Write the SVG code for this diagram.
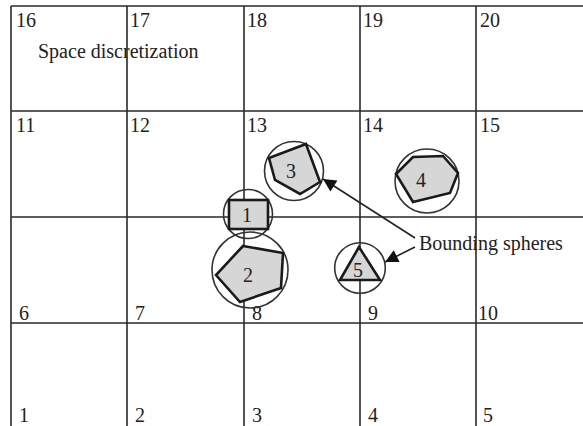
<svg xmlns="http://www.w3.org/2000/svg" width="583" height="426" viewBox="0 0 583 426">
<style>
.grid{stroke:#2a2a2a;stroke-width:1.6;fill:none}
.t{font-family:"Liberation Serif","Times New Roman",serif;font-size:20px;fill:#222}
.c{fill:none;stroke:#333;stroke-width:1.6}
.s{fill:#d6d6d6;stroke:#1a1a1a;stroke-width:2.6;stroke-linejoin:miter}
.m{text-anchor:middle}
.a{stroke:#222;stroke-width:1.6;fill:none}
</style>
<defs>
<marker id="ah2" viewBox="0 0 10 10" refX="10" refY="5" markerWidth="15" markerHeight="13" markerUnits="userSpaceOnUse" orient="auto"><path d="M0,0 L10,5 L0,10 z" fill="#111"/></marker>
</defs>
<rect width="583" height="426" fill="#fff"/>
<g id="grid">
<path class="grid" d="M11,6 H583 M11,111 H583 M11,217 H583 M11,323 H583 M11,6 V426 M127,6 V426 M244,6 V426 M360,6 V426 M476,6 V426"/>
<text class="t" x="16" y="27">16</text>
<text class="t" x="130" y="27">17</text>
<text class="t" x="247" y="27">18</text>
<text class="t" x="363" y="27">19</text>
<text class="t" x="480" y="27">20</text>
<text class="t" x="16" y="132">11</text>
<text class="t" x="130" y="132">12</text>
<text class="t" x="247" y="132">13</text>
<text class="t" x="363" y="132">14</text>
<text class="t" x="480" y="132">15</text>
<text class="t" x="19" y="320">6</text>
<text class="t" x="135" y="320">7</text>
<text class="t" x="252" y="320">8</text>
<text class="t" x="368" y="320">9</text>
<text class="t" x="478" y="320">10</text>
<text class="t" x="19" y="422">1</text>
<text class="t" x="135" y="422">2</text>
<text class="t" x="252" y="422">3</text>
<text class="t" x="368" y="422">4</text>
<text class="t" x="483" y="422">5</text>
<text class="t" x="38" y="58">Space discretization</text>
</g>
<g id="obj1">
<circle class="c" cx="248" cy="214" r="24.5"/>
<rect class="s" x="229" y="200" width="39" height="29"/>
<text class="t m" x="247" y="222">1</text>
</g>
<g id="obj2">
<circle class="c" cx="250" cy="270" r="38"/>
<polygon class="s" points="243,246 283,253 281,288 240,302 216,275"/>
<text class="t m" x="248" y="282">2</text>
</g>
<g id="obj3">
<circle class="c" cx="294" cy="171" r="29.5"/>
<polygon class="s" points="269,158 306,144 320,182 300,194 275,180"/>
<text class="t m" x="291" y="178">3</text>
</g>
<g id="obj4">
<circle class="c" cx="427" cy="181" r="32"/>
<polygon class="s" points="396,174 413,157 443,156 458,173 450,193 413,202"/>
<text class="t m" x="421" y="187">4</text>
</g>
<g id="obj5">
<circle class="c" cx="360" cy="268" r="25.3"/>
<polygon class="s" points="359,247 340,280 380,280"/>
<text class="t m" x="358" y="277">5</text>
</g>
<g id="label">
<text class="t" x="419" y="250">Bounding spheres</text>
</g>
<g id="connectors">
<line class="a" x1="415" y1="238" x2="323" y2="179" marker-end="url(#ah2)"/>
<line class="a" x1="415" y1="247" x2="385" y2="262" marker-end="url(#ah2)"/>
</g>
</svg>
